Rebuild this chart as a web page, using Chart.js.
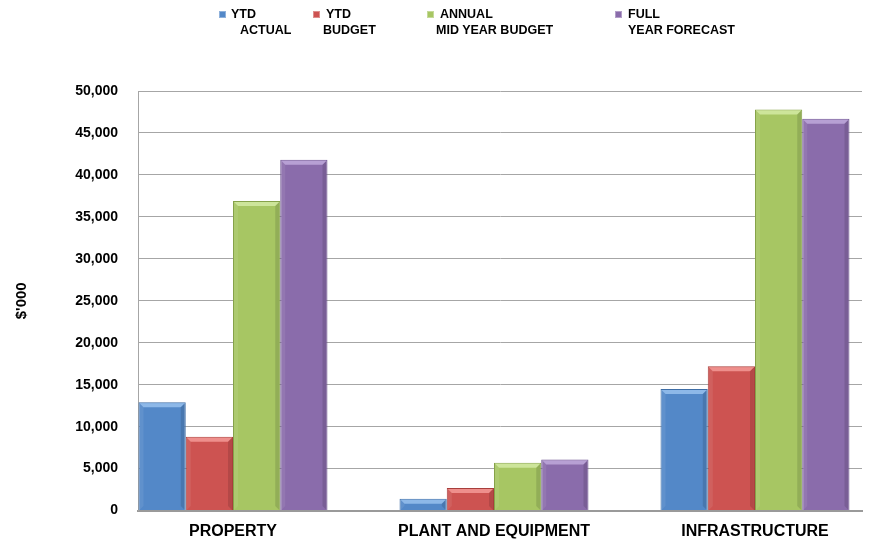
<!DOCTYPE html>
<html>
<head>
<meta charset="utf-8">
<script src="https://cdn.jsdelivr.net/npm/chart.js@4/dist/chart.umd.min.js"></script>
<style>
  html, body { margin: 0; padding: 0; background: #fff; }
  #wrap { position: relative; width: 873px; height: 539px; }
  canvas { position: absolute; left: 0; top: 0; }
  .lg { position: absolute; font: bold 12.5px "Liberation Sans", Arial, sans-serif; color: #000; line-height: 16px; white-space: nowrap; }
  .sw { position: absolute; width: 7px; height: 7px; top: 5px; box-sizing: border-box; border: 1px solid rgba(255,255,255,0.35); }
  .l1, .l2 { position: absolute; }
  .l1 { top: 0; }
  .l2 { top: 16px; }
</style>
</head>
<body>
<div id="wrap">
  <canvas id="c" width="873" height="539"></canvas>
</div>
<script>
const categories = ["PROPERTY", "PLANT AND EQUIPMENT", "INFRASTRUCTURE"];
const seriesNames = [["YTD", "ACTUAL"], ["YTD", "BUDGET"], ["ANNUAL", "MID YEAR BUDGET"], ["FULL", "YEAR FORECAST"]];
const ytdActual = [12900, 1400, 14500];
const ytdBudget = [8800, 2700, 17200];
const annualMidYearBudget = [36900, 5700, 47800];
const fullYearForecast = [41800, 6100, 46700];
const yTicks = [0, 5000, 10000, 15000, 20000, 25000, 30000, 35000, 40000, 45000, 50000];

const fills = ["#5388c8", "#cd5351", "#a7c663", "#8a6cab"];
const borders = ["#3e6da5", "#a83e3c", "#86a24a", "#6c5290"];
const tops = ["#8db8e8", "#ee8f8c", "#cde59a", "#b7a0d4"];
const seriesValues = [ytdActual, ytdBudget, annualMidYearBudget, fullYearForecast];

// HTML legend
const legendPos = [
  { sw: 219, l1: 231, l2: 240 },
  { sw: 313, l1: 326, l2: 323 },
  { sw: 427, l1: 440, l2: 436 },
  { sw: 615, l1: 628, l2: 628 }
];
const wrap = document.getElementById('wrap');
seriesNames.forEach((lines, i) => {
  const d = document.createElement('div');
  d.className = 'lg';
  d.style.left = '0px';
  d.style.top = '6px';
  const sw = document.createElement('span');
  sw.className = 'sw';
  sw.style.left = legendPos[i].sw + 'px';
  sw.style.background = fills[i];
  const a = document.createElement('span'); a.className = 'l1'; a.textContent = lines[0]; a.style.left = legendPos[i].l1 + 'px';
  const b = document.createElement('span'); b.className = 'l2'; b.textContent = lines[1]; b.style.left = legendPos[i].l2 + 'px';
  d.appendChild(sw); d.appendChild(a); d.appendChild(b);
  wrap.appendChild(d);
});

const datasets = seriesValues.map((vals, i) => ({
  label: seriesNames[i].join(' '),
  data: vals.map((v, k) => ({ x: k, y: v })),
  backgroundColor: fills[i],
  borderColor: borders[i],
  borderWidth: 1,
  categoryPercentage: 0.724,
  barPercentage: 1.0
}));

// subtle bevel on each bar, using the bar elements' own geometry
const bevel = {
  id: 'bevel',
  afterDatasetsDraw(chart) {
    const ctx = chart.ctx;
    chart.data.datasets.forEach((ds, i) => {
      const meta = chart.getDatasetMeta(i);
      meta.data.forEach(bar => {
        const w = bar.width, l = bar.x - w / 2, r = bar.x + w / 2, t = bar.y, b = bar.base;
        const h = b - t;
        const e = Math.min(4, h / 2);
        ctx.save();
        // top facet
        ctx.fillStyle = tops[i];
        ctx.beginPath();
        ctx.moveTo(l + 1, t + 1); ctx.lineTo(r - 1, t + 1); ctx.lineTo(r - 1 - e, t + 1 + e); ctx.lineTo(l + 1 + e, t + 1 + e); ctx.closePath();
        ctx.fill();
        // right facet (darker)
        ctx.fillStyle = 'rgba(0,0,0,0.12)';
        ctx.beginPath();
        ctx.moveTo(r - 1, t + 1); ctx.lineTo(r - 1, b); ctx.lineTo(r - 1 - e, b - e); ctx.lineTo(r - 1 - e, t + 1 + e); ctx.closePath();
        ctx.fill();
        // left facet (slightly lighter)
        ctx.fillStyle = 'rgba(255,255,255,0.08)';
        ctx.beginPath();
        ctx.moveTo(l + 1, t + 1); ctx.lineTo(l + 1, b); ctx.lineTo(l + 1 + e, b - e); ctx.lineTo(l + 1 + e, t + 1 + e); ctx.closePath();
        ctx.fill();
        ctx.restore();
      });
    });
  }
};

new Chart(document.getElementById('c'), {
  type: 'bar',
  data: { datasets },
  plugins: [bevel],
  options: {
    responsive: false,
    animation: false,
    layout: { padding: { top: 91, right: 11, left: 0, bottom: 0 } },
    plugins: { legend: { display: false }, tooltip: { enabled: false } },
    scales: {
      x: {
        type: 'linear',
        offset: false,
        min: -0.364,
        max: 2.41,
        grid: { display: false, offset: false },
        border: { display: true, color: '#9a9a9a', width: 2 },
        afterBuildTicks: (s) => { s.ticks = categories.map((c, k) => ({ value: k })); },
        afterFit: (s) => { s.height = 28; },
        ticks: {
          autoSkip: false,
          maxRotation: 0,
          padding: 3,
          color: '#000',
          font: { family: '"Liberation Sans", Arial, sans-serif', size: 16, weight: 'bold' },
          callback: (v) => categories[v] !== undefined ? categories[v] : ''
        }
      },
      y: {
        min: 0,
        max: 50000,
        afterBuildTicks: (s) => { s.ticks = yTicks.map(v => ({ value: v })); },
        afterFit: (s) => { s.width = 138; },
        grid: { color: '#a6a6a6', lineWidth: 1, drawTicks: false },
        border: { display: true, color: '#a6a6a6', width: 1 },
        ticks: {
          padding: 20,
          color: '#000',
          font: { family: '"Liberation Sans", Arial, sans-serif', size: 14, weight: 'bold' },
          callback: (v) => v.toLocaleString('en-US')
        },
        title: {
          display: true,
          text: "$'000",
          color: '#000',
          padding: { top: 13, bottom: 0 },
          font: { family: '"Liberation Sans", Arial, sans-serif', size: 15, weight: 'bold' }
        }
      }
    }
  }
});
</script>
</body>
</html>
